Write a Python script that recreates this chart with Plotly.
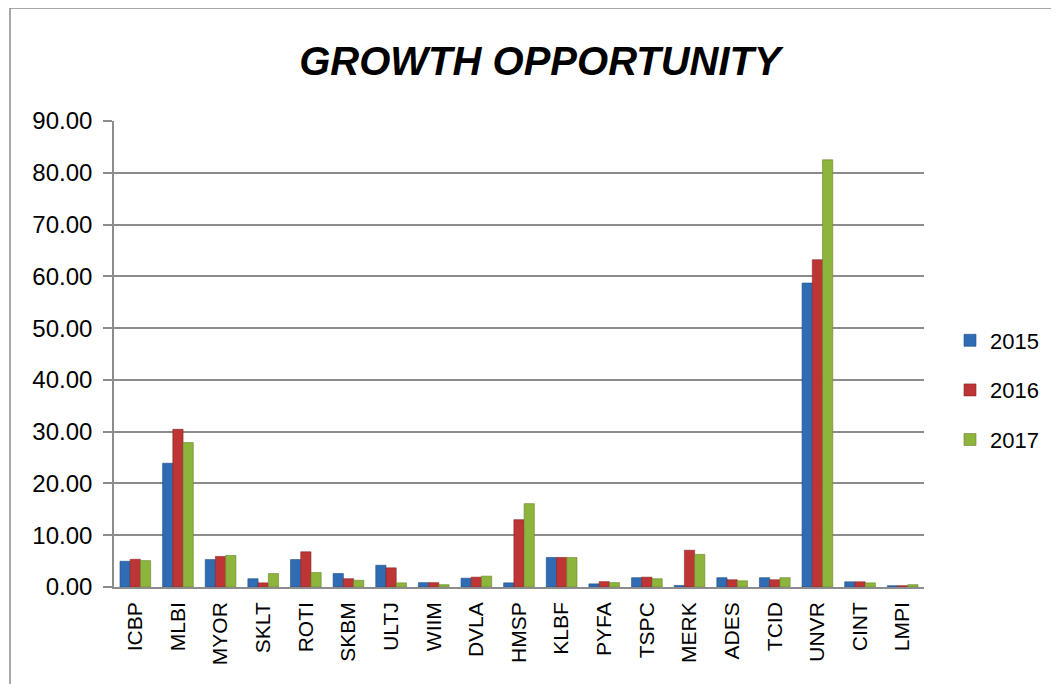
import plotly.graph_objects as go

categories = ["ICBP", "MLBI", "MYOR", "SKLT", "ROTI", "SKBM", "ULTJ", "WIIM", "DVLA", "HMSP",
              "KLBF", "PYFA", "TSPC", "MERK", "ADES", "TCID", "UNVR", "CINT", "LMPI"]
v2015 = [4.97, 23.9, 5.3, 1.6, 5.3, 2.6, 4.2, 0.84, 1.7, 0.8, 5.7, 0.6, 1.8, 0.3, 1.8, 1.8, 58.7, 1.0, 0.25]
v2016 = [5.35, 30.45, 5.9, 0.8, 6.8, 1.6, 3.7, 0.84, 1.9, 13.0, 5.7, 1.03, 1.9, 7.1, 1.4, 1.4, 63.2, 1.0, 0.25]
v2017 = [5.1, 27.9, 6.1, 2.6, 2.8, 1.3, 0.8, 0.45, 2.1, 16.1, 5.7, 0.84, 1.6, 6.3, 1.2, 1.8, 82.5, 0.8, 0.45]
series_names = ["2015", "2016", "2017"]
colors = ["#2F6CB4", "#BE3535", "#8DB43C"]
edges = ["#1F4E85", "#8A2222", "#66862A"]

FONT = "Liberation Sans"
OFF = 8  # page body margin
W, H = 1059 - OFF, 684 - OFF
# target screen coordinates
AX_L, AX_R, AX_T, AX_B = 114, 924, 121, 587
L, R, T, B = AX_L - OFF, (W + OFF) - AX_R, AX_T - OFF, (H + OFF) - AX_B
pw, ph = W - L - R, H - T - B

def px_x(sx):
    return (sx - AX_L) / pw

def px_y(sy):
    return (AX_B - sy) / ph

fig = go.Figure()
for name, vals, c, e in zip(series_names, [v2015, v2016, v2017], colors, edges):
    fig.add_trace(go.Bar(x=categories, y=vals, name=name, marker=dict(color=c, line=dict(color=e, width=0.6)),
                         legendgroup=name))

fig.update_layout(
    width=W, height=H,
    margin=dict(l=L, r=R, t=T, b=B, autoexpand=False),
    paper_bgcolor="white", plot_bgcolor="white",
    barmode="group", bargap=0.28, bargroupgap=0.0,
    title=dict(text="GROWTH OPPORTUNITY", x=(540 - OFF) / W, xanchor="center", y=1 - (61 - OFF) / H,
               yanchor="middle",
               font=dict(family=FONT, size=40, color="black", weight="bold", style="italic")),
    font=dict(family=FONT, color="black"),
    legend=dict(x=px_x(950), xanchor="left", y=px_y(390), yanchor="middle",
                font=dict(size=22, family=FONT), traceorder="grouped", tracegroupgap=18,
                bgcolor="rgba(0,0,0,0)"),
    yaxis=dict(range=[0, 90], dtick=10, tickformat=".2f", showgrid=True, gridcolor="#8C8C8C", gridwidth=1.6,
               showline=True, linecolor="#8C8C8C", linewidth=1.6, ticks="outside", ticklen=9,
               tickcolor="#8C8C8C", tickwidth=1.6, tickfont=dict(size=24, family=FONT), zeroline=False,
               ticklabelstandoff=6, fixedrange=True),
    xaxis=dict(showline=True, linecolor="#8C8C8C", linewidth=1.6, ticks="", tickangle=-90,
               tickfont=dict(size=21, family=FONT), ticklabelstandoff=5, fixedrange=True),
    shapes=[dict(type="rect", xref="paper", yref="paper",
                 x0=px_x(10), x1=px_x(1080), y0=px_y(700), y1=px_y(8),
                 line=dict(color="#8C8C8C", width=1.5), fillcolor="rgba(0,0,0,0)", layer="below")],
)

fig.write_html("out.html")
